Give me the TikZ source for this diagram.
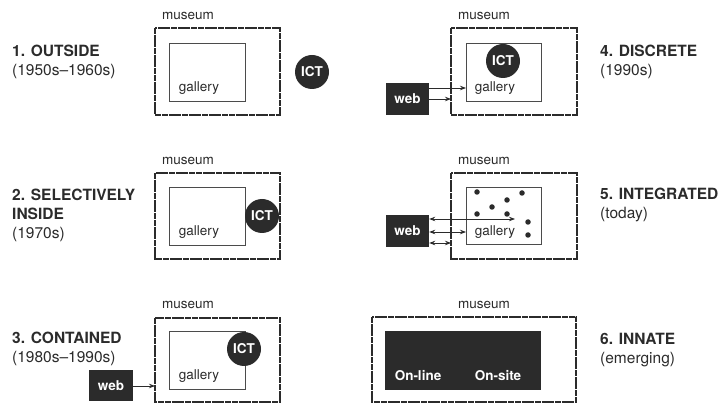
\documentclass[tikz,border=0pt]{standalone}
\usepackage{fontspec}
\setmainfont{TeX Gyre Heros}
\usetikzlibrary{arrows.meta}
\definecolor{ink}{HTML}{2B2B2B}
\tikzset{
  museumbox/.style={draw=ink, line width=1.7pt, dash pattern=on 6pt off 0.7pt},
  gallerybox/.style={draw=ink!85, line width=0.8pt},
  ictnode/.style={circle, fill=ink, minimum size=34pt, inner sep=0pt, text=white, font=\bfseries\fontsize{13.5}{14}\selectfont},
  webnode/.style={fill=ink, text=white, inner sep=0pt, font=\bfseries\fontsize{13.5}{14}\selectfont},
  lbl/.style={text=ink, font=\fontsize{13.5}{14}\selectfont, inner sep=0pt},
  title/.style={text=ink, anchor=west, align=left, inner sep=0pt, font=\fontsize{15.5}{19}\selectfont},
  arr/.style={draw=ink, line width=0.8pt, -{Stealth[length=6pt,width=4.5pt]}},
  darr/.style={draw=ink, line width=0.8pt, {Stealth[length=6pt,width=4.5pt]}-{Stealth[length=6pt,width=4.5pt]}},
  dot/.style={circle, fill=ink, minimum size=5.5pt, inner sep=0pt}
}
\begin{document}
\begin{tikzpicture}[x=1pt,y=-1pt]
\useasboundingbox (0,0) rectangle (718,403);
% ---------- Panel 1
\draw[museumbox] (155,28) rectangle (280,115);
\draw[gallerybox] (169,43) rectangle (245,101);
\node[lbl] (m1) at (188,16) {museum};
\node[lbl] (g1) at (199,88) {gallery};
\node[ictnode] (ict1) at (312,72) {ICT};
\node[title] (t1) at (12,62) {\textbf{1. OUTSIDE}\\(1950s–1960s)};
% ---------- Panel 2
\draw[museumbox] (155,173) rectangle (280,259);
\draw[gallerybox] (169,187) rectangle (245,245);
\node[lbl] (m2) at (188,161) {museum};
\node[lbl] (g2) at (199,232) {gallery};
\node[ictnode] (ict2) at (262,216) {ICT};
\node[title] (t2) at (12,215) {\textbf{2. SELECTIVELY}\\\textbf{INSIDE}\\(1970s)};
% ---------- Panel 3
\draw[museumbox] (155,318) rectangle (280,402);
\draw[gallerybox] (169,331) rectangle (245,389);
\node[lbl] (m3) at (188,305) {museum};
\node[lbl] (g3) at (199,376) {gallery};
\node[ictnode] (ict3) at (244,349) {ICT};
\node[title] (t3) at (12,349) {\textbf{3. CONTAINED}\\(1980s–1990s)};
\node[webnode, minimum width=44pt, minimum height=31pt] (w3) at (111,386) {web};
\coordinate (m3l) at (155,386);
\draw[arr] (w3.east) -- (m3l);
% ---------- Panel 4
\draw[museumbox] (451,28) rectangle (577,115);
\draw[gallerybox] (466,43) rectangle (541,101);
\node[lbl] (m4) at (484,16) {museum};
\node[lbl] (g4) at (495,88) {gallery};
\node[ictnode] (ict4) at (503,61) {ICT};
\node[webnode, minimum width=43pt, minimum height=32pt] (w4) at (407.5,99) {web};
\coordinate (g4l) at (466,88);
\coordinate (m4l) at (451,99);
\draw[arr] (w4.east |- g4l) -- (g4l);
\draw[arr] (w4.east |- m4l) -- (m4l);
\node[title] (t4) at (600,62) {\textbf{4. DISCRETE}\\(1990s)};
% ---------- Panel 5
\draw[museumbox] (451,173) rectangle (577,259);
\draw[gallerybox] (466,187) rectangle (541,244);
\node[lbl] (m5) at (484,161) {museum};
\node[lbl] (g5) at (495,232) {gallery};
\node[webnode, minimum width=43pt, minimum height=32pt] (w5) at (407.5,231) {web};
\coordinate (p5a) at (515,219);
\coordinate (p5b) at (466,232);
\coordinate (p5c) at (451,243);
\draw[darr] (w5.east |- p5a) -- (p5a);
\draw[darr] (w5.east |- p5b) -- (p5b);
\draw[darr] (w5.east |- p5c) -- (p5c);
\node[dot] (d1) at (477,192) {};
\node[dot] (d2) at (507,200) {};
\node[dot] (d3) at (522,193) {};
\node[dot] (d4) at (492,207) {};
\node[dot] (d5) at (477,214) {};
\node[dot] (d6) at (507,214) {};
\node[dot] (d7) at (528,222) {};
\node[dot] (d8) at (528,235) {};
\node[title] (t5) at (600,205) {\textbf{5. INTEGRATED}\\(today)};
% ---------- Panel 6
\draw[museumbox] (372,317) rectangle (576,402);
\fill[ink] (385,331) rectangle (541,390);
\node[lbl] (m6) at (484,305) {museum};
\node[webnode] (ol) at (418,376) {On-line};
\node[webnode] (os) at (498,376) {On-site};
\node[title] (t6) at (600,350) {\textbf{6. INNATE}\\(emerging)};
\end{tikzpicture}
\end{document}
